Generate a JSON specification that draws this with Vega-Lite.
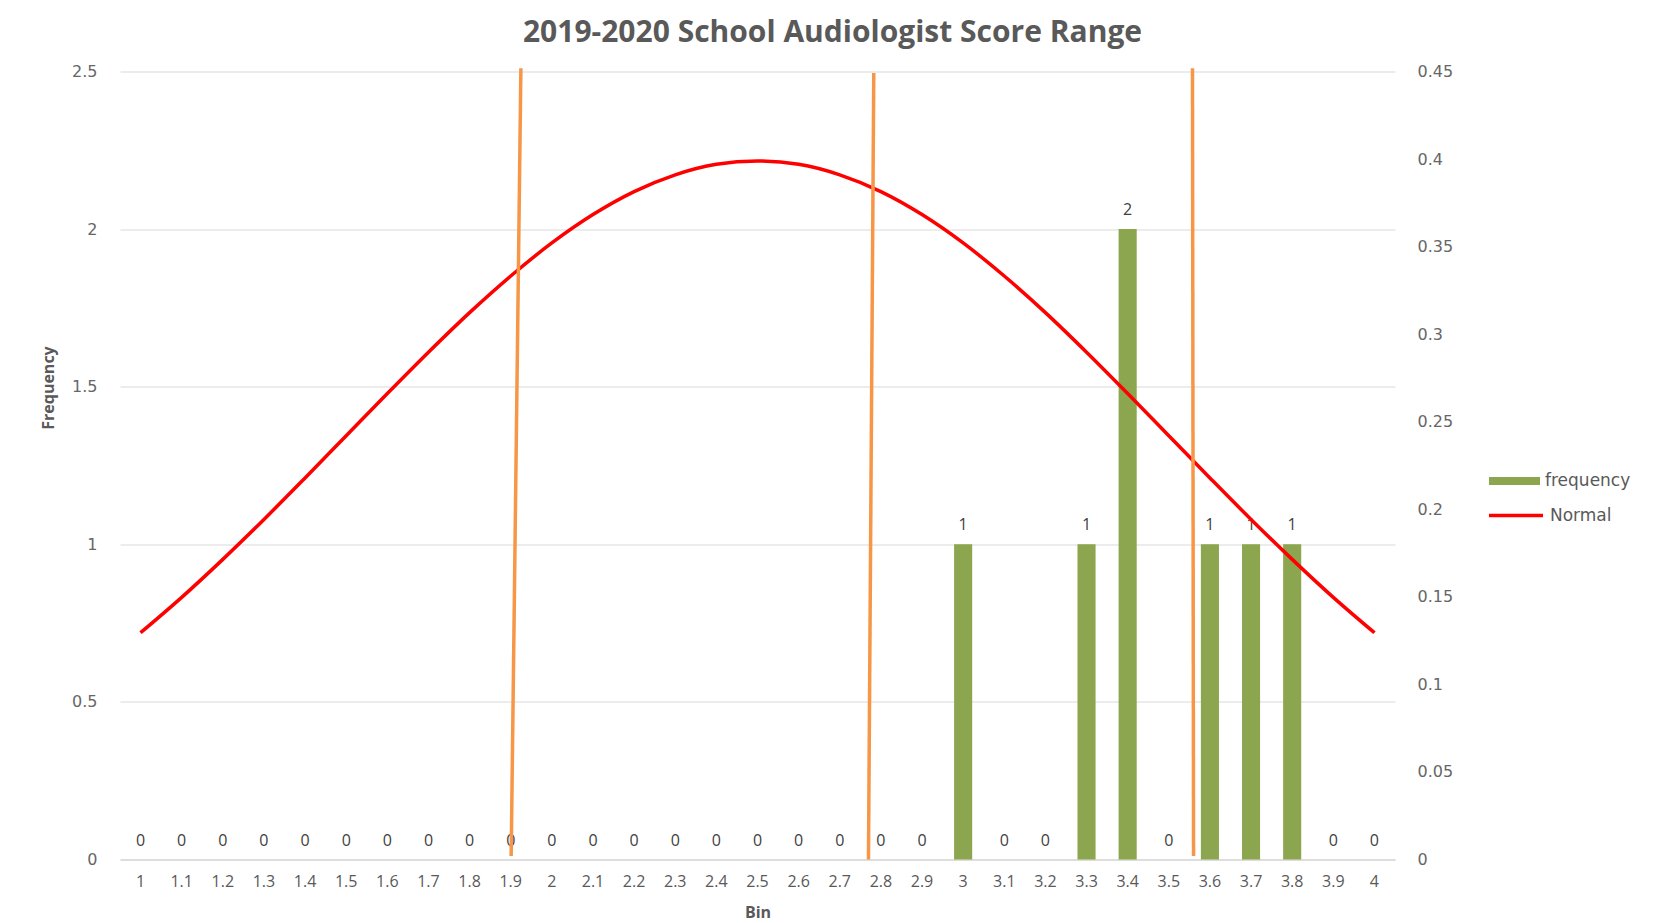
{
  "$schema": "https://vega.github.io/schema/vega-lite/v6.json",
  "width": 1275,
  "height": 788,
  "autosize": {"type": "none"},
  "padding": {"left": 120, "top": 71.5, "right": 282, "bottom": 63.5},
  "background": "white",
  "config": {"view": {"stroke": null}, "font": "Open Sans"},
  "title": {
    "text": "2019-2020 School Audiologist Score Range",
    "font": "Open Sans",
    "fontSize": 30,
    "fontWeight": "bold",
    "color": "#595959",
    "anchor": "middle",
    "frame": "group",
    "dx": 75,
    "offset": 16
  },
  "data": {
    "values": [
      {"bin": 1.0, "frequency": 0, "normal": 0.1295},
      {"bin": 1.1, "frequency": 0, "normal": 0.1497},
      {"bin": 1.2, "frequency": 0, "normal": 0.1714},
      {"bin": 1.3, "frequency": 0, "normal": 0.1942},
      {"bin": 1.4, "frequency": 0, "normal": 0.2179},
      {"bin": 1.5, "frequency": 0, "normal": 0.2420},
      {"bin": 1.6, "frequency": 0, "normal": 0.2661},
      {"bin": 1.7, "frequency": 0, "normal": 0.2897},
      {"bin": 1.8, "frequency": 0, "normal": 0.3123},
      {"bin": 1.9, "frequency": 0, "normal": 0.3332},
      {"bin": 2.0, "frequency": 0, "normal": 0.3521},
      {"bin": 2.1, "frequency": 0, "normal": 0.3683},
      {"bin": 2.2, "frequency": 0, "normal": 0.3814},
      {"bin": 2.3, "frequency": 0, "normal": 0.3910},
      {"bin": 2.4, "frequency": 0, "normal": 0.3970},
      {"bin": 2.5, "frequency": 0, "normal": 0.3989},
      {"bin": 2.6, "frequency": 0, "normal": 0.3970},
      {"bin": 2.7, "frequency": 0, "normal": 0.3910},
      {"bin": 2.8, "frequency": 0, "normal": 0.3814},
      {"bin": 2.9, "frequency": 0, "normal": 0.3683},
      {"bin": 3.0, "frequency": 1, "normal": 0.3521},
      {"bin": 3.1, "frequency": 0, "normal": 0.3332},
      {"bin": 3.2, "frequency": 0, "normal": 0.3123},
      {"bin": 3.3, "frequency": 1, "normal": 0.2897},
      {"bin": 3.4, "frequency": 2, "normal": 0.2661},
      {"bin": 3.5, "frequency": 0, "normal": 0.2420},
      {"bin": 3.6, "frequency": 1, "normal": 0.2179},
      {"bin": 3.7, "frequency": 1, "normal": 0.1942},
      {"bin": 3.8, "frequency": 1, "normal": 0.1714},
      {"bin": 3.9, "frequency": 0, "normal": 0.1497},
      {"bin": 4.0, "frequency": 0, "normal": 0.1295}
    ]
  },
  "layer": [
    {
      "layer": [
        {
          "layer": [
            {
              "mark": {"type": "bar"},
              "encoding": {
                "x": {
                  "field": "bin",
                  "type": "ordinal",
                  "sort": "ascending",
                  "scale": {"paddingInner": 0.56, "paddingOuter": 0.28},
                  "axis": {
                    "title": "Bin",
                    "titleFont": "Open Sans",
                    "titleFontSize": 16,
                    "titleFontWeight": "bold",
                    "titleColor": "#595959",
                    "titleY": 53,
                    "titleBaseline": "middle",
                    "labelAngle": 0,
                    "labelFont": "Open Sans",
                    "labelFontSize": 16,
                    "labelColor": "#595959",
                    "labelPadding": 14,
                    "ticks": false,
                    "domainColor": "#D9D9D9",
                    "domainWidth": 1.5,
                    "grid": false
                  }
                },
                "y": {
                  "field": "frequency",
                  "type": "quantitative",
                  "scale": {"domain": [0, 2.5], "nice": false},
                  "axis": {
                    "orient": "left",
                    "title": "Frequency",
                    "titleFont": "Open Sans",
                    "titleFontSize": 16,
                    "titleFontWeight": "bold",
                    "titleColor": "#595959",
                    "titleX": -72,
                    "titleY": 316,
                    "titleBaseline": "middle",
                    "titleAngle": -90,
                    "values": [0, 0.5, 1, 1.5, 2, 2.5],
                    "format": "~g",
                    "labelFont": "DejaVu Sans",
                    "labelFontSize": 16,
                    "labelColor": "#666666",
                    "labelPadding": 23,
                    "ticks": false,
                    "domain": false,
                    "grid": true,
                    "gridColor": "#D9D9D9",
                    "gridWidth": 1
                  }
                },
                "fill": {
                  "datum": "frequency",
                  "scale": {"range": ["#8BA64E"]},
                  "legend": {
                    "orient": "none",
                    "legendX": 1369,
                    "legendY": 384,
                    "title": null,
                    "padding": 0,
                    "symbolType": "M-1,-0.16L1,-0.16L1,0.16L-1,0.16Z",
                    "symbolSize": 2601,
                    "symbolStrokeWidth": 0,
                    "labelFont": "DejaVu Sans",
                    "labelFontSize": 17,
                    "labelColor": "#595959",
                    "labelOffset": 5
                  }
                }
              }
            },
            {
              "mark": {
                "type": "text",
                "font": "Open Sans",
                "fontSize": 16,
                "color": "#404040",
                "baseline": "alphabetic",
                "dy": -14
              },
              "encoding": {
                "x": {"field": "bin", "type": "ordinal", "sort": "ascending"},
                "y": {"field": "frequency", "type": "quantitative"},
                "text": {"field": "frequency", "type": "quantitative"}
              }
            }
          ]
        },
        {
          "mark": {"type": "line", "interpolate": "monotone", "strokeWidth": 3.5},
          "encoding": {
            "x": {"field": "bin", "type": "ordinal", "sort": "ascending"},
            "y": {
              "field": "normal",
              "type": "quantitative",
              "scale": {"domain": [0, 0.45], "nice": false},
              "axis": {
                "orient": "right",
                "title": null,
                "values": [0, 0.05, 0.1, 0.15, 0.2, 0.25, 0.3, 0.35, 0.4, 0.45],
                "format": "~g",
                "labelFont": "DejaVu Sans",
                "labelFontSize": 16,
                "labelColor": "#666666",
                "labelPadding": 22,
                "ticks": false,
                "domain": false,
                "grid": false
              }
            },
            "stroke": {
              "datum": "Normal",
              "scale": {"range": ["#FF0000"]},
              "legend": {
                "orient": "none",
                "legendX": 1367,
                "legendY": 415,
                "title": null,
                "padding": 0,
                "symbolType": "stroke",
                "symbolSize": 2916,
                "symbolStrokeWidth": 3.5,
                "labelFont": "DejaVu Sans",
                "labelFontSize": 17,
                "labelColor": "#595959",
                "labelOffset": 5
              }
            }
          }
        }
      ],
      "resolve": {"scale": {"y": "independent"}}
    },
    {
      "data": {
        "values": [
          {"xTop": 1.9247, "xBottom": 1.9011, "yTop": 2.51, "yBottom": 0.011},
          {"xTop": 2.7827, "xBottom": 2.7698, "yTop": 2.495, "yBottom": 0.0},
          {"xTop": 3.5576, "xBottom": 3.5602, "yTop": 2.51, "yBottom": 0.011}
        ]
      },
      "mark": {"type": "rule", "color": "#F79646", "strokeWidth": 3.5},
      "encoding": {
        "x": {"field": "xTop", "type": "quantitative", "scale": {"domain": [0.95, 4.05], "nice": false, "zero": false}, "axis": null},
        "x2": {"field": "xBottom"},
        "y": {"field": "yTop", "type": "quantitative", "scale": {"domain": [0, 2.5], "nice": false}, "axis": null},
        "y2": {"field": "yBottom"}
      }
    }
  ],
  "resolve": {"scale": {"x": "independent", "y": "independent"}}
}
